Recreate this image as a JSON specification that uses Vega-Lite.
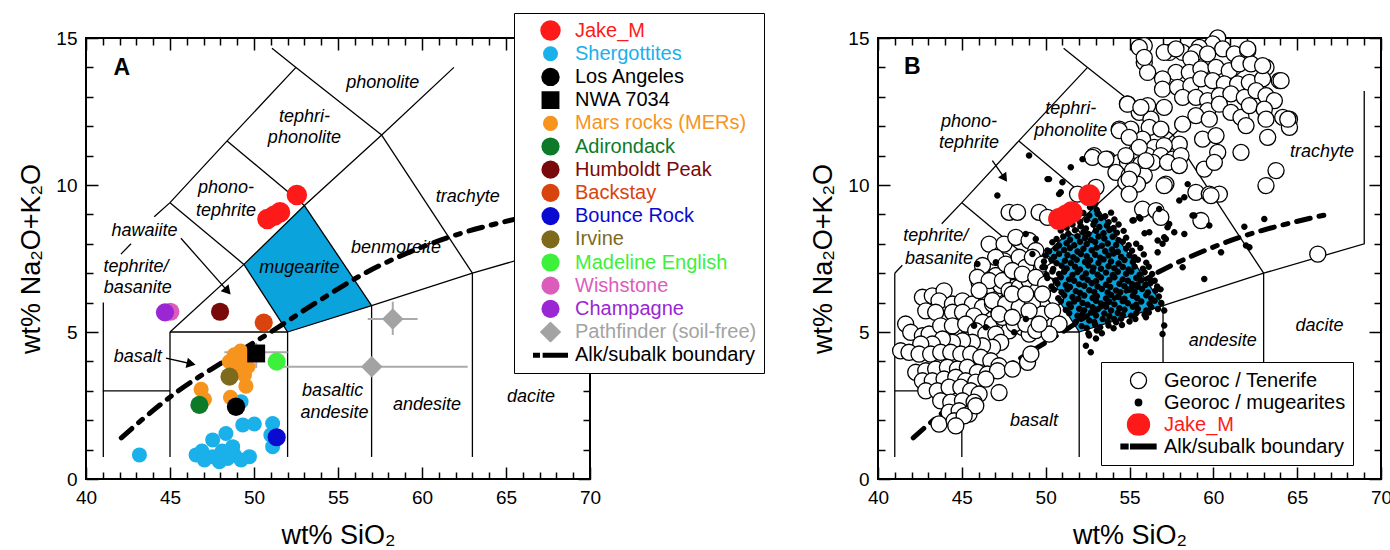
{
"$schema":"https://vega.github.io/schema/vega-lite/v6.json",
"padding":{"left":16,"top":11,"right":0,"bottom":0},
"spacing":42,
"config":{"font":"Liberation Sans","view":{"stroke":"black","strokeWidth":2},
 "axis":{"domain":false,"grid":false,"tickColor":"black","tickWidth":1.5,"labelFont":"Liberation Sans","labelFontSize":19,"labelColor":"black","titleFont":"Liberation Sans","titleFontSize":27,"titleFontWeight":"normal","titleColor":"black"}},
"resolve":{"scale":{"color":"independent","fill":"independent","stroke":"independent","shape":"independent","size":"independent"},"legend":{"color":"independent","fill":"independent","stroke":"independent","shape":"independent","size":"independent"}},
"datasets":{
"mug":[{"x":49.4,"y":7.3,"y2":7.3},{"x":52,"y":8.744,"y2":5},{"x":53,"y":9.3,"y2":5.18},{"x":57,"y":5.9,"y2":5.9}],
"alk":[{"x":42.1,"y":1.4},{"x":43.3,"y":2.0},{"x":45.5,"y":3.0},{"x":48.2,"y":4.0},{"x":51.0,"y":5.0},{"x":53.7,"y":6.0},{"x":56.6,"y":7.0},{"x":60.5,"y":8.0},{"x":66.8,"y":9.0}],
"gridA":[
{"s":"s1","o":1,"x":41.03,"y":0.75},{"s":"s1","o":2,"x":41.03,"y":6.0},
{"s":"s2","o":1,"x":41,"y":3},{"s":"s2","o":2,"x":45,"y":3},
{"s":"s3","o":1,"x":45,"y":0.75},{"s":"s3","o":2,"x":45,"y":5},
{"s":"s4","o":1,"x":45,"y":5},{"s":"s4","o":2,"x":52,"y":5},
{"s":"s5","o":1,"x":52,"y":0.75},{"s":"s5","o":2,"x":52,"y":5},
{"s":"s6","o":1,"x":52,"y":5},{"s":"s6","o":2,"x":57,"y":5.9},{"s":"s6","o":3,"x":63,"y":7},{"s":"s6","o":4,"x":69,"y":8},
{"s":"s7","o":1,"x":57,"y":0.75},{"s":"s7","o":2,"x":57,"y":5.9},
{"s":"s8","o":1,"x":63,"y":0.75},{"s":"s8","o":2,"x":63,"y":7},
{"s":"s9","o":1,"x":45,"y":5},{"s":"s9","o":2,"x":49.4,"y":7.3},{"s":"s9","o":3,"x":53,"y":9.3},{"s":"s9","o":4,"x":57.6,"y":11.7},{"s":"s9","o":5,"x":61.9,"y":14.0},
{"s":"s10","o":1,"x":49.4,"y":7.3},{"s":"s10","o":2,"x":52,"y":5},
{"s":"s11","o":1,"x":53,"y":9.3},{"s":"s11","o":2,"x":57,"y":5.9},
{"s":"s12","o":1,"x":57.6,"y":11.7},{"s":"s12","o":2,"x":63,"y":7},
{"s":"s13","o":1,"x":45,"y":9.4},{"s":"s13","o":2,"x":49.4,"y":7.3},
{"s":"s14","o":1,"x":48.4,"y":11.5},{"s":"s14","o":2,"x":53,"y":9.3},
{"s":"s15","o":1,"x":51.07,"y":14.65},{"s":"s15","o":2,"x":52.5,"y":14},{"s":"s15","o":3,"x":57.6,"y":11.7},
{"s":"s16","o":1,"x":44.06,"y":8.92},{"s":"s16","o":2,"x":45,"y":9.4},{"s":"s16","o":3,"x":48.4,"y":11.5},{"s":"s16","o":4,"x":52.5,"y":14},
{"s":"s17","o":1,"x":42.08,"y":7.65},{"s":"s17","o":2,"x":42.68,"y":8.0},
{"s":"a1","o":1,"x":45.65,"y":8.19},{"s":"a1","o":2,"x":48.43,"y":6.39},
{"s":"a2","o":1,"x":44.76,"y":4.11},{"s":"a2","o":2,"x":46.26,"y":3.92}],
"gridB":[
{"s":"s1","o":1,"x":41,"y":0.75},{"s":"s1","o":2,"x":41,"y":7.0},
{"s":"s2","o":1,"x":41,"y":3},{"s":"s2","o":2,"x":45,"y":3},
{"s":"s3","o":1,"x":45,"y":0.75},{"s":"s3","o":2,"x":45,"y":5},
{"s":"s4","o":1,"x":45,"y":5},{"s":"s4","o":2,"x":52,"y":5},
{"s":"s5","o":1,"x":52,"y":0.75},{"s":"s5","o":2,"x":52,"y":5},
{"s":"s6","o":1,"x":52,"y":5},{"s":"s6","o":2,"x":57,"y":5.9},{"s":"s6","o":3,"x":63,"y":7},{"s":"s6","o":4,"x":69,"y":8},{"s":"s6","o":5,"x":69,"y":13.2},
{"s":"s7","o":1,"x":57,"y":0.75},{"s":"s7","o":2,"x":57,"y":5.9},
{"s":"s8","o":1,"x":63,"y":0.75},{"s":"s8","o":2,"x":63,"y":7},
{"s":"s9","o":1,"x":45,"y":5},{"s":"s9","o":2,"x":49.4,"y":7.3},{"s":"s9","o":3,"x":53,"y":9.3},{"s":"s9","o":4,"x":57.6,"y":11.7},{"s":"s9","o":5,"x":61.9,"y":14.0},
{"s":"s10","o":1,"x":49.4,"y":7.3},{"s":"s10","o":2,"x":52,"y":5},
{"s":"s11","o":1,"x":53,"y":9.3},{"s":"s11","o":2,"x":57,"y":5.9},
{"s":"s12","o":1,"x":57.6,"y":11.7},{"s":"s12","o":2,"x":63,"y":7},
{"s":"s13","o":1,"x":45,"y":9.4},{"s":"s13","o":2,"x":49.4,"y":7.3},
{"s":"s14","o":1,"x":48.4,"y":11.5},{"s":"s14","o":2,"x":53,"y":9.3},
{"s":"s15","o":1,"x":51.07,"y":14.65},{"s":"s15","o":2,"x":52.5,"y":14},{"s":"s15","o":3,"x":57.6,"y":11.7},
{"s":"s16","o":1,"x":41,"y":7},{"s":"s16","o":2,"x":41.45,"y":7.27},
{"s":"s18","o":1,"x":43.8,"y":8.68},{"s":"s18","o":2,"x":45,"y":9.4},{"s":"s18","o":3,"x":48.4,"y":11.5},{"s":"s18","o":4,"x":52.5,"y":14},
{"s":"b1","o":1,"x":46.82,"y":10.83},{"s":"b1","o":2,"x":47.55,"y":10.23}],
"errA":[{"x":56.77,"x2":59.74,"y":5.44,"y2":5.44},{"x":58.26,"x2":58.26,"y":4.9,"y2":6.03},{"x":51.71,"x2":62.72,"y":3.82,"y2":3.82},{"x":48.24,"x2":52.0,"y":4.31,"y2":4.31},{"x":50.13,"x2":50.13,"y":3.78,"y2":4.63}],
"txtA":[{"t":"phonolite","x":57.66,"y":13.46},{"t":"tephri-","x":53.0,"y":12.32},{"t":"phonolite","x":53.0,"y":11.59},{"t":"phono-","x":48.33,"y":9.89},{"t":"tephrite","x":48.33,"y":9.13},{"t":"hawaiite","x":43.48,"y":8.45},{"t":"tephrite/","x":42.98,"y":7.22},{"t":"basanite","x":43.08,"y":6.49},{"t":"mugearite","x":52.7,"y":7.17},{"t":"benmoreite","x":58.45,"y":7.85},{"t":"trachyte","x":62.72,"y":9.6},{"t":"basalt","x":43.08,"y":4.14},{"t":"basaltic","x":54.68,"y":3.0},{"t":"andesite","x":54.79,"y":2.23},{"t":"andesite","x":60.3,"y":2.52},{"t":"dacite","x":66.49,"y":2.78}],
"txtB":[{"t":"tephri-","x":51.5,"y":12.59},{"t":"phonolite","x":51.5,"y":11.83},{"t":"phono-","x":45.43,"y":12.13},{"t":"tephrite","x":45.43,"y":11.42},{"t":"tephrite/","x":43.44,"y":8.28},{"t":"basanite","x":43.64,"y":7.48},{"t":"trachyte","x":66.48,"y":11.11},{"t":"dacite","x":66.33,"y":5.21},{"t":"andesite","x":60.56,"y":4.7},{"t":"basalt","x":49.31,"y":1.98}],
"ptsA":[
{"g":"Shergottites","x":43.18,"y":0.82},{"g":"Shergottites","x":46.55,"y":0.82},{"g":"Shergottites","x":47.05,"y":0.65},{"g":"Shergottites","x":47.54,"y":0.76},{"g":"Shergottites","x":47.94,"y":0.59},{"g":"Shergottites","x":48.43,"y":0.7},{"g":"Shergottites","x":48.83,"y":0.82},{"g":"Shergottites","x":49.23,"y":0.65},{"g":"Shergottites","x":49.73,"y":0.76},{"g":"Shergottites","x":47.54,"y":1.33},{"g":"Shergottites","x":48.33,"y":1.55},{"g":"Shergottites","x":48.73,"y":1.1},{"g":"Shergottites","x":49.33,"y":1.84},{"g":"Shergottites","x":50.02,"y":1.87},{"g":"Shergottites","x":51.11,"y":1.89},{"g":"Shergottites","x":51.11,"y":1.1},{"g":"Shergottites","x":51.0,"y":1.5},{"g":"Shergottites","x":49.23,"y":2.63},{"g":"Shergottites","x":46.9,"y":0.95},{"g":"Shergottites","x":48.1,"y":0.95},
{"g":"Mars rocks (MERs)","x":48.83,"y":4.22},{"g":"Mars rocks (MERs)","x":49.43,"y":4.1},{"g":"Mars rocks (MERs)","x":48.54,"y":3.99},{"g":"Mars rocks (MERs)","x":49.63,"y":3.82},{"g":"Mars rocks (MERs)","x":49.13,"y":3.71},{"g":"Mars rocks (MERs)","x":49.43,"y":3.54},{"g":"Mars rocks (MERs)","x":49.52,"y":3.16},{"g":"Mars rocks (MERs)","x":46.85,"y":3.05},{"g":"Mars rocks (MERs)","x":47.05,"y":2.71},{"g":"Mars rocks (MERs)","x":48.6,"y":2.78},{"g":"Mars rocks (MERs)","x":49.2,"y":4.35},{"g":"Mars rocks (MERs)","x":48.9,"y":3.85},
{"g":"Los Angeles","x":48.93,"y":2.46},
{"g":"NWA 7034","x":50.13,"y":4.27},
{"g":"Adirondack","x":46.75,"y":2.52},
{"g":"Humboldt Peak","x":47.98,"y":5.69},
{"g":"Backstay","x":50.58,"y":5.32},
{"g":"Bounce Rock","x":51.35,"y":1.42},
{"g":"Irvine","x":48.54,"y":3.48},
{"g":"Madeline English","x":51.35,"y":3.99},
{"g":"Wishstone","x":45.02,"y":5.69},
{"g":"Champagne","x":44.7,"y":5.67},
{"g":"Pathfinder (soil-free)","x":58.26,"y":5.44},{"g":"Pathfinder (soil-free)","x":57.01,"y":3.82},
{"g":"Jake_M","x":50.8,"y":8.84},{"g":"Jake_M","x":51.2,"y":8.95},{"g":"Jake_M","x":51.55,"y":9.07},{"g":"Jake_M","x":52.55,"y":9.66}],
"jakeB":[{"x":50.8,"y":8.84},{"x":51.2,"y":8.95},{"x":51.55,"y":9.07},{"x":52.6,"y":9.65}],
"circB":[
{"x":46.83,"y":7.25},{"x":47.52,"y":7.42},{"x":46.23,"y":6.97},{"x":47.03,"y":6.92},{"x":47.82,"y":6.8},{"x":46.03,"y":6.69},{"x":46.63,"y":6.58},{"x":47.32,"y":6.58},{"x":48.12,"y":6.52},{"x":48.82,"y":6.52},{"x":42.65,"y":6.18},{"x":43.24,"y":6.23},{"x":43.94,"y":6.4},{"x":43.64,"y":6.06},{"x":42.85,"y":5.72},{"x":43.44,"y":5.67},{"x":44.44,"y":5.95},{"x":45.04,"y":6.06},{"x":45.63,"y":5.95},{"x":46.23,"y":5.84},{"x":46.83,"y":5.95},{"x":47.22,"y":5.67},{"x":44.44,"y":5.67},{"x":45.04,"y":5.67},{"x":45.73,"y":5.55},{"x":46.23,"y":5.33},{"x":46.83,"y":5.27},{"x":47.52,"y":5.38},{"x":48.12,"y":5.27},{"x":48.62,"y":5.16},{"x":49.02,"y":4.93},{"x":47.82,"y":5.04},{"x":41.65,"y":5.27},{"x":41.95,"y":4.99},{"x":42.65,"y":4.87},{"x":43.05,"y":4.93},{"x":43.74,"y":5.21},{"x":44.44,"y":5.21},{"x":45.23,"y":5.27},{"x":45.83,"y":5.04},{"x":46.43,"y":4.93},{"x":47.03,"y":4.93},{"x":47.32,"y":4.65},{"x":46.83,"y":4.48},{"x":46.23,"y":4.53},{"x":45.63,"y":4.65},{"x":45.04,"y":4.7},{"x":44.44,"y":4.65},{"x":43.84,"y":4.76},{"x":43.24,"y":4.59},{"x":42.55,"y":4.59},{"x":41.35,"y":4.36},{"x":41.85,"y":4.31},{"x":42.45,"y":4.25},{"x":43.14,"y":4.25},{"x":43.74,"y":4.31},{"x":44.34,"y":4.31},{"x":44.94,"y":4.25},{"x":45.53,"y":4.25},{"x":46.13,"y":4.14},{"x":46.73,"y":4.02},{"x":47.22,"y":3.85},{"x":42.25,"y":3.63},{"x":42.85,"y":3.68},{"x":43.44,"y":3.74},{"x":44.14,"y":3.8},{"x":44.74,"y":3.74},{"x":45.33,"y":3.8},{"x":45.93,"y":3.63},{"x":46.53,"y":3.57},{"x":47.13,"y":3.68},{"x":42.65,"y":3.34},{"x":43.24,"y":3.34},{"x":43.94,"y":3.4},{"x":44.64,"y":3.46},{"x":45.23,"y":3.34},{"x":45.83,"y":3.29},{"x":46.43,"y":3.4},{"x":42.85,"y":3.0},{"x":43.54,"y":3.0},{"x":44.24,"y":3.12},{"x":44.94,"y":3.12},{"x":45.53,"y":3.0},{"x":46.03,"y":2.89},{"x":47.22,"y":2.94},{"x":43.74,"y":2.66},{"x":44.34,"y":2.61},{"x":45.04,"y":2.66},{"x":45.73,"y":2.61},{"x":44.24,"y":2.27},{"x":44.84,"y":2.32},{"x":45.43,"y":2.21},{"x":45.83,"y":2.49},{"x":43.64,"y":1.87},{"x":44.54,"y":1.98},{"x":45.14,"y":2.15},{"x":44.64,"y":1.81},{"x":48.02,"y":3.74},{"x":48.92,"y":3.97},{"x":49.12,"y":4.25},
{"x":47.82,"y":9.07},{"x":48.32,"y":9.07},{"x":49.61,"y":9.07},{"x":50.11,"y":8.9},{"x":46.63,"y":7.99},{"x":47.52,"y":7.99},{"x":48.22,"y":8.22},{"x":49.01,"y":8.11},{"x":49.41,"y":7.77},{"x":50.01,"y":7.31},{"x":47.02,"y":7.54},{"x":47.62,"y":7.31},{"x":48.42,"y":7.54},{"x":48.81,"y":7.2},{"x":46.23,"y":7.26},{"x":45.93,"y":6.86},{"x":46.63,"y":6.75},{"x":47.42,"y":6.75},{"x":47.82,"y":6.41},{"x":48.42,"y":6.52},{"x":49.01,"y":6.75},{"x":49.81,"y":6.86},{"x":49.51,"y":6.41},{"x":50.21,"y":6.52},{"x":50.61,"y":6.18},{"x":46.03,"y":6.41},{"x":46.82,"y":6.07},{"x":47.62,"y":5.95},{"x":48.42,"y":5.84},{"x":49.21,"y":5.95},{"x":49.81,"y":5.61},{"x":50.41,"y":5.72},{"x":50.8,"y":5.27},{"x":47.42,"y":5.5},{"x":48.12,"y":5.27},{"x":48.81,"y":5.27},{"x":49.41,"y":5.05},{"x":50.21,"y":4.93},{"x":51.9,"y":9.69},{"x":53.0,"y":9.92},{"x":51.8,"y":8.56},{"x":52.4,"y":8.56},{"x":49.21,"y":7.54},{"x":49.81,"y":7.31},{"x":48.01,"y":7.09},{"x":48.61,"y":6.97},{"x":49.41,"y":6.86},{"x":50.0,"y":6.63},{"x":48.01,"y":6.29},{"x":48.81,"y":6.29},{"x":49.81,"y":6.29},{"x":47.22,"y":5.61},{"x":48.01,"y":5.5},{"x":49.01,"y":5.72},{"x":49.61,"y":5.27},{"x":50.5,"y":7.09},
{"x":55.88,"y":14.74},{"x":60.26,"y":15.0},{"x":59.96,"y":14.8},{"x":59.16,"y":14.68},{"x":60.56,"y":14.63},{"x":57.37,"y":14.51},{"x":58.17,"y":14.51},{"x":58.96,"y":14.51},{"x":59.66,"y":14.46},{"x":61.25,"y":14.46},{"x":62.05,"y":14.57},{"x":55.88,"y":14.17},{"x":56.08,"y":13.83},{"x":58.66,"y":14.29},{"x":57.77,"y":13.83},{"x":58.57,"y":13.83},{"x":59.26,"y":13.95},{"x":60.16,"y":14.0},{"x":60.95,"y":13.89},{"x":61.55,"y":14.12},{"x":62.25,"y":14.12},{"x":63.14,"y":14.0},{"x":63.94,"y":13.55},{"x":56.97,"y":13.61},{"x":56.97,"y":13.26},{"x":57.87,"y":13.32},{"x":58.66,"y":13.38},{"x":59.26,"y":13.61},{"x":59.96,"y":13.55},{"x":60.66,"y":13.44},{"x":61.45,"y":13.44},{"x":62.15,"y":13.49},{"x":62.94,"y":13.61},{"x":58.17,"y":12.98},{"x":58.96,"y":12.98},{"x":59.66,"y":12.87},{"x":60.36,"y":13.04},{"x":61.05,"y":13.1},{"x":61.85,"y":12.98},{"x":62.55,"y":13.21},{"x":63.14,"y":13.04},{"x":63.64,"y":12.87},{"x":54.88,"y":12.76},{"x":56.08,"y":12.7},{"x":57.07,"y":12.64},{"x":59.66,"y":12.53},{"x":60.36,"y":12.75},{"x":61.05,"y":12.47},{"x":61.65,"y":12.3},{"x":62.15,"y":12.7},{"x":63.04,"y":12.58},{"x":63.14,"y":12.24},{"x":64.14,"y":12.3},{"x":64.54,"y":12.24},{"x":64.54,"y":11.96},{"x":55.58,"y":12.47},{"x":56.28,"y":12.24},{"x":58.17,"y":12.07},{"x":58.96,"y":12.36},{"x":59.76,"y":12.24},{"x":61.95,"y":12.02},{"x":54.39,"y":11.9},{"x":55.08,"y":11.9},{"x":56.18,"y":11.96},{"x":56.87,"y":11.9},{"x":57.97,"y":11.39},{"x":55.78,"y":11.56},{"x":56.48,"y":11.28},{"x":57.07,"y":11.34},{"x":59.36,"y":11.56},{"x":60.16,"y":11.68},{"x":63.24,"y":11.62},{"x":55.38,"y":11.11},{"x":56.08,"y":11.0},{"x":56.87,"y":11.0},{"x":57.57,"y":10.88},{"x":58.07,"y":11.0},{"x":60.26,"y":11.11},{"x":61.65,"y":11.11},{"x":52.89,"y":11.0},{"x":53.69,"y":10.88},{"x":54.39,"y":10.77},{"x":54.88,"y":10.77},{"x":55.68,"y":10.71},{"x":56.38,"y":10.77},{"x":57.27,"y":10.77},{"x":57.97,"y":10.66},{"x":59.46,"y":10.54},{"x":60.06,"y":10.77},{"x":63.74,"y":10.49},{"x":54.19,"y":10.43},{"x":54.98,"y":10.32},{"x":55.88,"y":10.32},{"x":57.17,"y":10.03},{"x":58.96,"y":9.75},{"x":59.76,"y":9.69},{"x":60.36,"y":9.69},{"x":63.14,"y":9.98},{"x":54.78,"y":10.09},{"x":55.48,"y":10.03},{"x":66.23,"y":7.65},{"x":59.26,"y":8.79},{"x":59.86,"y":9.64},{"x":55.78,"y":9.18},{"x":56.58,"y":9.13},{"x":56.87,"y":8.9},{"x":52.79,"y":10.94},{"x":53.59,"y":10.88},{"x":54.39,"y":11.85},{"x":54.88,"y":12.75},{"x":55.68,"y":12.64},{"x":54.98,"y":11.62},{"x":55.58,"y":11.28},{"x":55.98,"y":10.83},{"x":54.78,"y":11.0},{"x":55.18,"y":10.49},{"x":54.98,"y":10.2},{"x":54.98,"y":9.69},{"x":57.07,"y":9.98},{"x":57.07,"y":14.51},{"x":57.77,"y":14.63},{"x":62.05,"y":14.63},{"x":62.94,"y":14.06},{"x":64.04,"y":13.55},{"x":64.44,"y":12.24},{"x":55.58,"y":14.68},{"x":55.88,"y":14.34}],
"dotB":[
{"x":52.65,"y":9.24},{"x":53.05,"y":9.15},{"x":52.95,"y":9.35},
{"x":52.25,"y":9.05},{"x":52.6,"y":8.96},{"x":53.1,"y":9.02},{"x":53.55,"y":8.94},{"x":53.9,"y":9.06},
{"x":51.7,"y":8.86},{"x":52.05,"y":8.74},{"x":52.45,"y":8.81},{"x":52.95,"y":8.77},{"x":53.3,"y":8.88},{"x":53.75,"y":8.73},{"x":54.1,"y":8.83},{"x":55.25,"y":8.8},{"x":55.65,"y":8.86},
{"x":51.25,"y":8.55},{"x":51.6,"y":8.66},{"x":52.1,"y":8.6},{"x":52.4,"y":8.52},{"x":52.85,"y":8.65},{"x":53.2,"y":8.57},{"x":53.65,"y":8.62},{"x":54.05,"y":8.54},{"x":54.35,"y":8.66},
{"x":50.9,"y":8.45},{"x":51.35,"y":8.34},{"x":51.75,"y":8.46},{"x":52.25,"y":8.4},{"x":52.55,"y":8.33},{"x":53.0,"y":8.44},{"x":53.45,"y":8.36},{"x":53.8,"y":8.47},{"x":54.25,"y":8.38},{"x":54.65,"y":8.44},{"x":55.9,"y":8.36},
{"x":50.65,"y":8.16},{"x":51.05,"y":8.25},{"x":51.45,"y":8.14},{"x":51.9,"y":8.26},{"x":52.35,"y":8.2},{"x":52.7,"y":8.13},{"x":53.15,"y":8.25},{"x":53.5,"y":8.18},{"x":54.0,"y":8.24},{"x":54.35,"y":8.12},{"x":54.8,"y":8.21},
{"x":50.4,"y":8.05},{"x":50.8,"y":7.94},{"x":51.25,"y":8.02},{"x":51.7,"y":7.95},{"x":52.05,"y":8.07},{"x":52.45,"y":7.99},{"x":52.95,"y":8.06},{"x":53.35,"y":7.93},{"x":53.7,"y":8.01},{"x":54.2,"y":7.96},{"x":54.6,"y":8.07},{"x":54.95,"y":7.95},{"x":55.4,"y":8.0},
{"x":50.2,"y":7.75},{"x":50.6,"y":7.85},{"x":51.1,"y":7.79},{"x":51.45,"y":7.86},{"x":51.9,"y":7.74},{"x":52.25,"y":7.83},{"x":52.75,"y":7.78},{"x":53.05,"y":7.87},{"x":53.55,"y":7.75},{"x":53.95,"y":7.81},{"x":54.3,"y":7.73},{"x":54.8,"y":7.84},{"x":55.15,"y":7.76},{"x":55.65,"y":7.86},
{"x":50.0,"y":7.6},{"x":50.5,"y":7.55},{"x":50.8,"y":7.66},{"x":51.3,"y":7.61},{"x":51.65,"y":7.54},{"x":52.1,"y":7.65},{"x":52.45,"y":7.58},{"x":52.95,"y":7.63},{"x":53.25,"y":7.53},{"x":53.75,"y":7.6},{"x":54.05,"y":7.67},{"x":54.5,"y":7.55},{"x":55.0,"y":7.61},{"x":55.3,"y":7.54},{"x":55.85,"y":7.64},
{"x":49.9,"y":7.4},{"x":50.35,"y":7.45},{"x":50.65,"y":7.34},{"x":51.15,"y":7.42},{"x":51.5,"y":7.35},{"x":51.85,"y":7.46},{"x":52.35,"y":7.38},{"x":52.65,"y":7.44},{"x":53.15,"y":7.35},{"x":53.45,"y":7.47},{"x":53.9,"y":7.4},{"x":54.35,"y":7.33},{"x":54.7,"y":7.45},{"x":55.2,"y":7.38},{"x":55.5,"y":7.46},{"x":56.0,"y":7.36},
{"x":49.95,"y":7.2},{"x":50.45,"y":7.14},{"x":50.95,"y":7.25},{"x":51.25,"y":7.16},{"x":51.75,"y":7.22},{"x":52.05,"y":7.13},{"x":52.55,"y":7.26},{"x":52.85,"y":7.19},{"x":53.3,"y":7.15},{"x":53.75,"y":7.24},{"x":54.1,"y":7.17},{"x":54.6,"y":7.21},{"x":54.95,"y":7.13},{"x":55.3,"y":7.23},{"x":55.8,"y":7.15},{"x":56.15,"y":7.22},
{"x":50.05,"y":6.95},{"x":50.4,"y":7.06},{"x":50.8,"y":6.97},{"x":51.1,"y":7.05},{"x":51.6,"y":6.94},{"x":51.9,"y":7.04},{"x":52.4,"y":6.99},{"x":52.8,"y":7.07},{"x":53.1,"y":6.95},{"x":53.6,"y":7.02},{"x":54.0,"y":6.94},{"x":54.3,"y":7.05},{"x":54.8,"y":6.98},{"x":55.1,"y":7.06},{"x":55.6,"y":6.95},{"x":55.9,"y":7.03},{"x":56.35,"y":6.97},
{"x":50.1,"y":6.84},{"x":50.6,"y":6.75},{"x":50.9,"y":6.86},{"x":51.4,"y":6.79},{"x":51.7,"y":6.74},{"x":52.2,"y":6.85},{"x":52.5,"y":6.78},{"x":53.0,"y":6.73},{"x":53.3,"y":6.85},{"x":53.8,"y":6.77},{"x":54.1,"y":6.86},{"x":54.6,"y":6.79},{"x":54.9,"y":6.74},{"x":55.4,"y":6.84},{"x":55.7,"y":6.76},{"x":56.2,"y":6.82},{"x":56.5,"y":6.74},
{"x":50.35,"y":6.55},{"x":50.7,"y":6.65},{"x":51.2,"y":6.6},{"x":51.45,"y":6.53},{"x":52.0,"y":6.62},{"x":52.3,"y":6.57},{"x":52.75,"y":6.66},{"x":53.1,"y":6.55},{"x":53.6,"y":6.61},{"x":53.85,"y":6.53},{"x":54.4,"y":6.64},{"x":54.7,"y":6.56},{"x":55.15,"y":6.63},{"x":55.5,"y":6.54},{"x":55.95,"y":6.6},{"x":56.25,"y":6.66},{"x":56.65,"y":6.55},
{"x":50.5,"y":6.44},{"x":50.95,"y":6.35},{"x":51.3,"y":6.45},{"x":51.8,"y":6.39},{"x":52.05,"y":6.33},{"x":52.6,"y":6.42},{"x":52.9,"y":6.36},{"x":53.35,"y":6.46},{"x":53.7,"y":6.34},{"x":54.2,"y":6.41},{"x":54.45,"y":6.35},{"x":55.0,"y":6.44},{"x":55.3,"y":6.37},{"x":55.75,"y":6.46},{"x":56.1,"y":6.34},{"x":56.55,"y":6.4},{"x":56.85,"y":6.45},
{"x":50.75,"y":6.15},{"x":51.1,"y":6.25},{"x":51.6,"y":6.19},{"x":51.95,"y":6.13},{"x":52.3,"y":6.24},{"x":52.8,"y":6.16},{"x":53.05,"y":6.22},{"x":53.6,"y":6.14},{"x":53.9,"y":6.26},{"x":54.35,"y":6.19},{"x":54.7,"y":6.13},{"x":55.2,"y":6.23},{"x":55.45,"y":6.16},{"x":56.0,"y":6.25},{"x":56.3,"y":6.14},{"x":56.75,"y":6.21},
{"x":50.9,"y":6.05},{"x":51.4,"y":5.95},{"x":51.7,"y":6.04},{"x":52.2,"y":5.99},{"x":52.5,"y":5.93},{"x":53.0,"y":6.06},{"x":53.3,"y":5.97},{"x":53.8,"y":6.03},{"x":54.1,"y":5.94},{"x":54.6,"y":6.05},{"x":54.9,"y":5.98},{"x":55.4,"y":5.93},{"x":55.7,"y":6.04},{"x":56.2,"y":5.96},{"x":56.5,"y":6.06},{"x":56.9,"y":5.99},
{"x":51.2,"y":5.75},{"x":51.5,"y":5.85},{"x":52.0,"y":5.79},{"x":52.3,"y":5.74},{"x":52.8,"y":5.84},{"x":53.1,"y":5.77},{"x":53.6,"y":5.86},{"x":53.9,"y":5.73},{"x":54.4,"y":5.81},{"x":54.7,"y":5.76},{"x":55.2,"y":5.86},{"x":55.5,"y":5.78},{"x":56.0,"y":5.73},{"x":56.3,"y":5.84},{"x":56.7,"y":5.78},
{"x":51.4,"y":5.64},{"x":51.9,"y":5.55},{"x":52.2,"y":5.61},{"x":52.7,"y":5.66},{"x":53.0,"y":5.56},{"x":53.5,"y":5.63},{"x":53.8,"y":5.54},{"x":54.3,"y":5.65},{"x":54.6,"y":5.58},{"x":55.1,"y":5.55},{"x":55.4,"y":5.64},{"x":55.9,"y":5.59},{"x":56.15,"y":5.66},
{"x":51.8,"y":5.35},{"x":52.1,"y":5.45},{"x":52.6,"y":5.39},{"x":52.9,"y":5.34},{"x":53.4,"y":5.44},{"x":53.7,"y":5.37},{"x":54.2,"y":5.33},{"x":54.5,"y":5.45},{"x":55.0,"y":5.36},{"x":55.35,"y":5.44},
{"x":52.15,"y":5.2},{"x":52.45,"y":5.14},{"x":52.95,"y":5.25},{"x":53.25,"y":5.16},{"x":53.75,"y":5.22},{"x":54.05,"y":5.13},{"x":54.55,"y":5.24},
{"x":52.55,"y":4.95},{"x":53.05,"y":5.05},{"x":53.35,"y":4.96},{"x":53.0,"y":4.78},
{"x":47.12,"y":9.64},{"x":49.01,"y":11.0},{"x":50.11,"y":10.2},{"x":51.0,"y":10.09},{"x":51.5,"y":10.6},{"x":52.2,"y":10.88},{"x":50.8,"y":9.69},{"x":59.46,"y":6.8},{"x":59.76,"y":8.62},{"x":58.27,"y":8.33},{"x":58.86,"y":8.96},{"x":57.37,"y":8.67},{"x":57.07,"y":8.22},{"x":56.68,"y":8.11},{"x":56.18,"y":8.39},{"x":55.58,"y":8.9},{"x":55.18,"y":8.79},{"x":52.59,"y":4.88},{"x":52.4,"y":4.53},{"x":52.69,"y":4.31},{"x":57.07,"y":5.22},{"x":56.97,"y":4.93},{"x":55.98,"y":5.5},{"x":54.09,"y":5.44},{"x":60.46,"y":7.71},{"x":61.95,"y":7.94},{"x":58.47,"y":10.03},{"x":57.97,"y":9.47},{"x":58.27,"y":9.58},{"x":58.76,"y":8.96},{"x":61.85,"y":8.58},{"x":63.04,"y":8.84},{"x":62.15,"y":7.88},{"x":58.17,"y":7.2},{"x":57.17,"y":8.16},{"x":57.67,"y":8.39},{"x":57.27,"y":8.56},{"x":56.77,"y":9.18},{"x":56.97,"y":8.0},{"x":56.68,"y":7.71},{"x":57.07,"y":5.73},{"x":45.73,"y":5.21},{"x":46.43,"y":5.16},{"x":48.12,"y":4.99},{"x":48.82,"y":5.44},{"x":45.93,"y":7.31},{"x":47.03,"y":7.37},{"x":48.81,"y":8.33},{"x":49.41,"y":8.16},{"x":50.1,"y":7.77},{"x":49.21,"y":7.65},{"x":49.81,"y":7.2},{"x":50.2,"y":10.2},{"x":50.9,"y":9.75}]
},
"hconcat":[
{"width":504,"height":441,
 "resolve":{"axis":{"x":"independent","y":"independent"}},
 "layer":[
  {"data":{"name":"mug"},"mark":{"type":"area","color":"#0aa3dc","opacity":1},
   "encoding":{"x":{"field":"x","type":"quantitative","scale":{"domain":[40,70],"nice":false,"zero":false},
     "axis":{"orient":"bottom","values":[40,41,42,43,44,45,46,47,48,49,50,51,52,53,54,55,56,57,58,59,60,61,62,63,64,65,66,67,68,69,70],"tickSize":{"condition":{"test":"datum.value % 5 === 0","value":-12},"value":-7},"labelExpr":"datum.value % 5 === 0 ? datum.label : ''","labelPadding":21,"labelFlush":false,"labelOverlap":false,"labelBound":false,"title":"wt% SiO₂","titlePadding":10}},
    "y":{"field":"y","type":"quantitative","scale":{"domain":[0,15],"nice":false,"zero":false},
     "axis":{"orient":"left","values":[0,1,2,3,4,5,6,7,8,9,10,11,12,13,14,15],"tickSize":{"condition":{"test":"datum.value % 5 === 0","value":-12},"value":-7},"labelExpr":"datum.value % 5 === 0 ? datum.label : ''","labelPadding":21,"labelFlush":false,"labelOverlap":false,"labelBound":false,"title":"wt% Na₂O+K₂O","titlePadding":10}},
    "y2":{"field":"y2"}}},
  {"data":{"name":"gridA"},"mark":{"type":"line","color":"black","strokeWidth":1.3},
   "encoding":{"x":{"field":"x","type":"quantitative","scale":{"domain":[40,70],"nice":false,"zero":false},
     "axis":{"orient":"top","values":[40,41,42,43,44,45,46,47,48,49,50,51,52,53,54,55,56,57,58,59,60,61,62,63,64,65,66,67,68,69,70],"tickSize":{"condition":{"test":"datum.value % 5 === 0","value":-12},"value":-7},"labels":false,"title":null}},
    "y":{"field":"y","type":"quantitative","scale":{"domain":[0,15],"nice":false,"zero":false},
     "axis":{"orient":"right","values":[0,1,2,3,4,5,6,7,8,9,10,11,12,13,14,15],"tickSize":{"condition":{"test":"datum.value % 5 === 0","value":-12},"value":-7},"labels":false,"title":null}},
    "detail":{"field":"s"},"order":{"field":"o","type":"quantitative"}}},
  {"data":{"name":"alk"},"mark":{"type":"line","color":"black","strokeWidth":5,"strokeDash":[14,9,5,9],"strokeCap":"round","interpolate":"monotone"},
   "encoding":{"x":{"field":"x","type":"quantitative","axis":null},"y":{"field":"y","type":"quantitative","axis":null}}},
  {"data":{"name":"errA"},"mark":{"type":"rule","color":"#aaaaaa","strokeWidth":2},
   "encoding":{"x":{"field":"x","type":"quantitative","axis":null},"x2":{"field":"x2"},"y":{"field":"y","type":"quantitative","axis":null},"y2":{"field":"y2"}}},
  {"data":{"values":[{"x":48.43,"y":6.39}]},"mark":{"type":"point","shape":"triangle-right","filled":true,"color":"black","opacity":1,"size":110,"angle":48.6},
   "encoding":{"x":{"field":"x","type":"quantitative","axis":null},"y":{"field":"y","type":"quantitative","axis":null}}},
  {"data":{"values":[{"x":46.26,"y":3.92}]},"mark":{"type":"point","shape":"triangle-right","filled":true,"color":"black","opacity":1,"size":110,"angle":12.6},
   "encoding":{"x":{"field":"x","type":"quantitative","axis":null},"y":{"field":"y","type":"quantitative","axis":null}}},
  {"data":{"name":"txtA"},"mark":{"type":"text","font":"Liberation Sans","fontStyle":"italic","fontSize":18,"align":"center","baseline":"middle","color":"black"},
   "encoding":{"x":{"field":"x","type":"quantitative","axis":null},"y":{"field":"y","type":"quantitative","axis":null},"text":{"field":"t"}}},
  {"data":{"values":[{"t":"A","x":42.13,"y":13.98}]},"mark":{"type":"text","font":"Liberation Sans","fontWeight":"bold","fontSize":23,"align":"center","baseline":"middle","color":"black"},
   "encoding":{"x":{"field":"x","type":"quantitative","axis":null},"y":{"field":"y","type":"quantitative","axis":null},"text":{"field":"t"}}},
  {"data":{"name":"ptsA"},"mark":{"type":"point","filled":true,"opacity":1,"strokeWidth":0},
   "encoding":{"x":{"field":"x","type":"quantitative","axis":null},"y":{"field":"y","type":"quantitative","axis":null},
    "color":{"field":"g","type":"nominal","scale":{"domain":["Jake_M","Shergottites","Los Angeles","NWA 7034","Mars rocks (MERs)","Adirondack","Humboldt Peak","Backstay","Bounce Rock","Irvine","Madeline English","Wishstone","Champagne","Pathfinder (soil-free)","Alk/subalk boundary"],"range":["#ff1a1a","#1ab0ea","#000000","#000000","#f7941d","#0d7a2a","#7a0a0a","#d8430e","#0a0ad0","#7d6a1c","#3cf03c","#dc5cbc","#9a26d4","#a3a3a3","#000000"]},
     "legend":{"title":null,"orient":"none","legendX":428,"legendY":-25,"fillColor":"white","strokeColor":"black","padding":7,"labelFont":"Liberation Sans","labelFontSize":20,"labelOffset":7,"symbolOffset":12,"clipHeight":21,"rowPadding":2.2,"labelLimit":400,"symbolStrokeWidth":0,
      "labelColor":{"expr":"['#ff1a1a','#1ab0ea','#000000','#000000','#f7941d','#0d7a2a','#7a0a0a','#d8430e','#0a0ad0','#7d6a1c','#3cf03c','#dc5cbc','#9a26d4','#a3a3a3','#000000'][indexof(['Jake_M','Shergottites','Los Angeles','NWA 7034','Mars rocks (MERs)','Adirondack','Humboldt Peak','Backstay','Bounce Rock','Irvine','Madeline English','Wishstone','Champagne','Pathfinder (soil-free)','Alk/subalk boundary'], datum.label)]"}}},
    "shape":{"field":"g","type":"nominal","scale":{"domain":["Jake_M","Shergottites","Los Angeles","NWA 7034","Mars rocks (MERs)","Adirondack","Humboldt Peak","Backstay","Bounce Rock","Irvine","Madeline English","Wishstone","Champagne","Pathfinder (soil-free)","Alk/subalk boundary"],"range":["circle","circle","circle","square","circle","circle","circle","circle","circle","circle","circle","circle","circle","diamond","M-1,-0.14H-0.6V0.14H-1ZM-0.45,-0.14H1V0.14H-0.45Z"]},
     "legend":{"title":null,"orient":"none","legendX":428,"legendY":-25}},
    "size":{"field":"g","type":"nominal","scale":{"type":"ordinal","domain":["Jake_M","Shergottites","Los Angeles","NWA 7034","Mars rocks (MERs)","Adirondack","Humboldt Peak","Backstay","Bounce Rock","Irvine","Madeline English","Wishstone","Champagne","Pathfinder (soil-free)","Alk/subalk boundary"],"range":[420,225,340,320,230,330,330,330,330,330,330,330,330,460,1225]},
     "legend":{"title":null,"orient":"none","legendX":428,"legendY":-25}}}}
 ]},
{"width":503,"height":441,
 "resolve":{"axis":{"x":"independent","y":"independent"}},
 "layer":[
  {"data":{"name":"mug"},"mark":{"type":"area","color":"#0aa3dc","opacity":1},
   "encoding":{"x":{"field":"x","type":"quantitative","scale":{"domain":[40,70],"nice":false,"zero":false},
     "axis":{"orient":"bottom","values":[40,41,42,43,44,45,46,47,48,49,50,51,52,53,54,55,56,57,58,59,60,61,62,63,64,65,66,67,68,69,70],"tickSize":{"condition":{"test":"datum.value % 5 === 0","value":-12},"value":-7},"labelExpr":"datum.value % 5 === 0 ? datum.label : ''","labelPadding":21,"labelFlush":false,"labelOverlap":false,"labelBound":false,"title":"wt% SiO₂","titlePadding":10}},
    "y":{"field":"y","type":"quantitative","scale":{"domain":[0,15],"nice":false,"zero":false},
     "axis":{"orient":"left","values":[0,1,2,3,4,5,6,7,8,9,10,11,12,13,14,15],"tickSize":{"condition":{"test":"datum.value % 5 === 0","value":-12},"value":-7},"labelExpr":"datum.value % 5 === 0 ? datum.label : ''","labelPadding":21,"labelFlush":false,"labelOverlap":false,"labelBound":false,"title":"wt% Na₂O+K₂O","titlePadding":10}},
    "y2":{"field":"y2"}}},
  {"data":{"name":"gridB"},"mark":{"type":"line","color":"black","strokeWidth":1.3},
   "encoding":{"x":{"field":"x","type":"quantitative","scale":{"domain":[40,70],"nice":false,"zero":false},
     "axis":{"orient":"top","values":[40,41,42,43,44,45,46,47,48,49,50,51,52,53,54,55,56,57,58,59,60,61,62,63,64,65,66,67,68,69,70],"tickSize":{"condition":{"test":"datum.value % 5 === 0","value":-12},"value":-7},"labels":false,"title":null}},
    "y":{"field":"y","type":"quantitative","scale":{"domain":[0,15],"nice":false,"zero":false},
     "axis":{"orient":"right","values":[0,1,2,3,4,5,6,7,8,9,10,11,12,13,14,15],"tickSize":{"condition":{"test":"datum.value % 5 === 0","value":-12},"value":-7},"labels":false,"title":null}},
    "detail":{"field":"s"},"order":{"field":"o","type":"quantitative"}}},
  {"data":{"name":"alk"},"mark":{"type":"line","color":"black","strokeWidth":5,"strokeDash":[14,9,5,9],"strokeCap":"round","interpolate":"monotone"},
   "encoding":{"x":{"field":"x","type":"quantitative","axis":null},"y":{"field":"y","type":"quantitative","axis":null}}},
  {"data":{"name":"circB"},"mark":{"type":"point","filled":true,"opacity":1,"strokeWidth":1.3,"size":1225},
   "encoding":{"x":{"field":"x","type":"quantitative","axis":null},"y":{"field":"y","type":"quantitative","axis":null},
    "fill":{"datum":"Georoc / Tenerife","type":"nominal","scale":{"domain":["Georoc / Tenerife","Georoc / mugearites","Jake_M","Alk/subalk boundary"],"range":["#ffffff","#000000","#ff1a1a","#000000"]},
     "legend":{"title":null,"orient":"none","legendX":223,"legendY":324,"fillColor":"white","strokeColor":"black","padding":7.5,"labelFont":"Liberation Sans","labelFontSize":20,"labelOffset":7,"symbolOffset":11.5,"symbolSize":1225,"clipHeight":22,"rowPadding":0,"labelLimit":400,"symbolStrokeWidth":1.3,"labelColor":{"expr":"datum.label === 'Jake_M' ? '#ff1a1a' : '#000000'"}}},
    "stroke":{"datum":"Georoc / Tenerife","type":"nominal","scale":{"domain":["Georoc / Tenerife","Georoc / mugearites","Jake_M","Alk/subalk boundary"],"range":["#000000","#000000","#ff1a1a","#000000"]},"legend":{"title":null,"orient":"none","legendX":223,"legendY":324}},
    "shape":{"datum":"Georoc / Tenerife","type":"nominal","scale":{"domain":["Georoc / Tenerife","Georoc / mugearites","Jake_M","Alk/subalk boundary"],"range":["M0.46,0C0.46,0.254 0.254,0.46 0,0.46C-0.254,0.46 -0.46,0.254 -0.46,0C-0.46,-0.254 -0.254,-0.46 0,-0.46C0.254,-0.46 0.46,-0.254 0.46,0Z","M0.185,0C0.185,0.102 0.102,0.185 0,0.185C-0.102,0.185 -0.185,0.102 -0.185,0C-0.185,-0.102 -0.102,-0.185 0,-0.185C0.102,-0.185 0.185,-0.102 0.185,0Z","M0.629,0C0.629,0.347 0.347,0.629 0,0.629C-0.347,0.629 -0.629,0.347 -0.629,0C-0.629,-0.347 -0.347,-0.629 0,-0.629C0.347,-0.629 0.629,-0.347 0.629,0Z","M-1,-0.14H-0.6V0.14H-1ZM-0.45,-0.14H1V0.14H-0.45Z"]},"legend":{"title":null,"orient":"none","legendX":223,"legendY":324}}}},
  {"data":{"name":"dotB"},"mark":{"type":"point","filled":true,"opacity":1,"strokeWidth":0,"size":1225},
   "encoding":{"x":{"field":"x","type":"quantitative","axis":null},"y":{"field":"y","type":"quantitative","axis":null},
    "fill":{"datum":"Georoc / mugearites","type":"nominal"},"stroke":{"datum":"Georoc / mugearites","type":"nominal"},"shape":{"datum":"Georoc / mugearites","type":"nominal"}}},
  {"data":{"name":"jakeB"},"mark":{"type":"point","filled":true,"opacity":1,"strokeWidth":0,"size":1225},
   "encoding":{"x":{"field":"x","type":"quantitative","axis":null},"y":{"field":"y","type":"quantitative","axis":null},
    "fill":{"datum":"Jake_M","type":"nominal"},"stroke":{"datum":"Jake_M","type":"nominal"},"shape":{"datum":"Jake_M","type":"nominal"}}},
  {"data":{"name":"txtB"},"mark":{"type":"text","font":"Liberation Sans","fontStyle":"italic","fontSize":18,"align":"center","baseline":"middle","color":"black"},
   "encoding":{"x":{"field":"x","type":"quantitative","axis":null},"y":{"field":"y","type":"quantitative","axis":null},"text":{"field":"t"}}},
  {"data":{"values":[{"x":47.55,"y":10.23}]},"mark":{"type":"point","shape":"triangle-right","filled":true,"color":"black","opacity":1,"size":100,"angle":55.2},
   "encoding":{"x":{"field":"x","type":"quantitative","axis":null},"y":{"field":"y","type":"quantitative","axis":null}}},
  {"data":{"values":[{"t":"B","x":42.05,"y":14.0}]},"mark":{"type":"text","font":"Liberation Sans","fontWeight":"bold","fontSize":23,"align":"center","baseline":"middle","color":"black"},
   "encoding":{"x":{"field":"x","type":"quantitative","axis":null},"y":{"field":"y","type":"quantitative","axis":null},"text":{"field":"t"}}}
 ]}
]
}
